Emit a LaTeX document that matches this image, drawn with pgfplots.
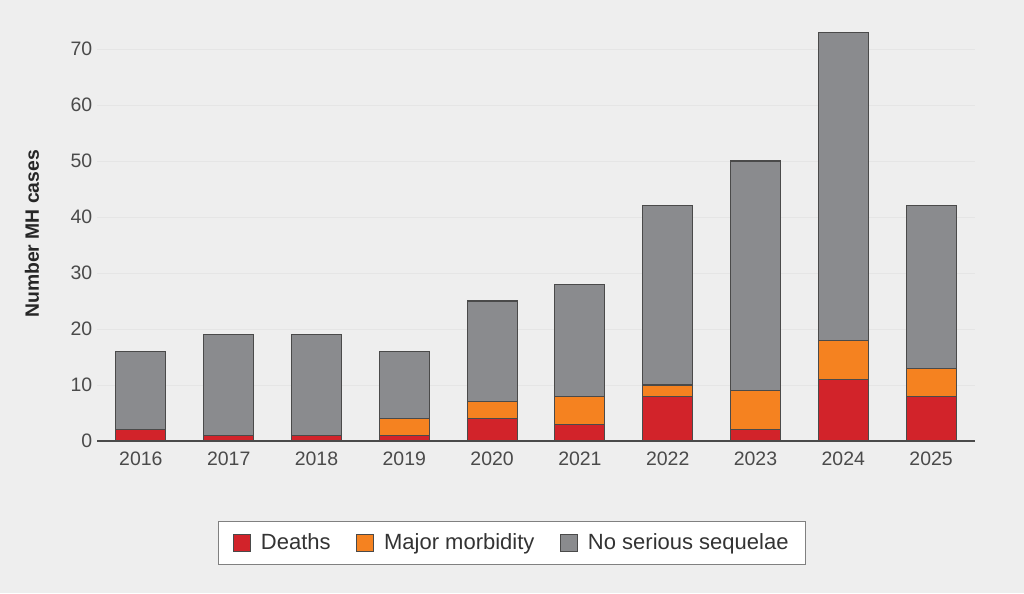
\documentclass[border=0pt]{standalone}
\usepackage{pgfplots}
\pgfplotsset{compat=1.18}
\usepackage{fontspec}
\setmainfont{Liberation Sans}

\definecolor{bgcol}{HTML}{EEEEEE}
\definecolor{gridcol}{HTML}{E5E5E5}
\definecolor{deathred}{HTML}{D2232A}
\definecolor{morbor}{HTML}{F58220}
\definecolor{nogray}{HTML}{8A8B8E}
\definecolor{edgecol}{HTML}{4A4A4A}
\definecolor{textcol}{HTML}{4A4A4A}

% annual malignant hyperthermia cases by outcome
\pgfplotstableread{
x year deaths major none
0 2016 2 0 14
1 2017 1 0 18
2 2018 1 0 18
3 2019 1 3 12
4 2020 4 3 18
5 2021 3 5 20
6 2022 8 2 32
7 2023 2 7 41
8 2024 11 7 55
9 2025 8 5 29
}\cases

\begin{document}
\begin{tikzpicture}[x=1pt,y=1pt]
\fill[bgcol] (0,0) rectangle (768,444.75);
\useasboundingbox (0,0) rectangle (768,444.75);
\begin{axis}[
  at={(72.75pt,114pt)}, anchor=south west,
  scale only axis,
  width=658.5pt, height=315pt,
  xmin=-0.5, xmax=9.5,
  ymin=0, ymax=75,
  ybar stacked,
  bar width=0.57,
  axis x line*=bottom,
  axis y line*=left,
  x axis line style={draw=edgecol, line width=0.9pt},
  y axis line style={draw=none},
  xtick=data,
  xticklabels={2016,2017,2018,2019,2020,2021,2022,2023,2024,2025},
  ytick={0,10,...,70},
  major tick length=0pt,
  ymajorgrids,
  grid style={draw=gridcol, line width=0.7pt},
  /pgf/number format/assume math mode=true,
  tick label style={font=\fontsize{14.6pt}{16pt}\selectfont, text=textcol},
  xticklabel style={yshift=-5pt},
  ylabel={Number MH cases},
  ylabel style={at={(axis description cs:0,0.493)}, anchor=center,
    yshift=48.75pt,
    font=\bfseries\fontsize{14.5pt}{16pt}\selectfont, text=black!85},
  legend columns=3,
  legend style={
    at={(axis description cs:0.4727,0)}, anchor=center, yshift=-76.5pt,
    draw=black!50, line width=0.7pt, fill=white,
    font=\fontsize{16.5pt}{18pt}\selectfont, text=black!80,
    inner xsep=11pt, inner ysep=7.5pt,
    /tikz/every odd column/.style={column sep=6pt},
    /tikz/every even column/.style={column sep=17pt},
  },
  legend cell align=left,
  legend image code/.code={
    \draw[#1, draw=edgecol, line width=0.6pt] (0pt,-6.3pt) rectangle (12.5pt,6.3pt);
  },
]
\addplot[fill=deathred, draw=edgecol, line width=0.85pt] table[x=x, y=deaths] {\cases};
\addplot[fill=morbor, draw=edgecol, line width=0.85pt] table[x=x, y=major] {\cases};
\addplot[fill=nogray, draw=edgecol, line width=0.85pt] table[x=x, y=none] {\cases};
\legend{Deaths, Major morbidity, No serious sequelae}
\end{axis}
\end{tikzpicture}
\end{document}
